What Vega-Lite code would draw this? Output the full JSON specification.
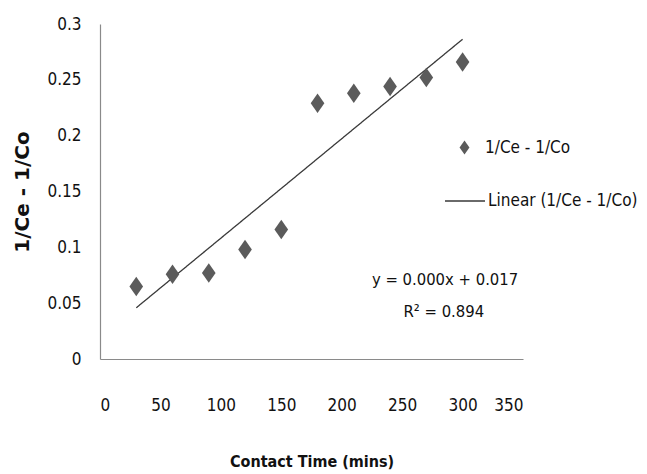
{
  "$schema": "https://vega.github.io/schema/vega-lite/v6.json",
  "autosize": "none",
  "padding": {"left": 100, "top": 24, "right": 124, "bottom": 115},
  "width": 423,
  "height": 335,
  "background": "white",
  "config": {
    "view": {"stroke": null},
    "font": "DejaVu Sans Condensed",
    "axis": {"grid": false, "ticks": false, "domainColor": "#8a8a8a", "domainWidth": 1.2,
      "labelFont": "DejaVu Sans Condensed", "labelFontSize": 17, "labelColor": "#111111",
      "titleFont": "DejaVu Sans Condensed", "titleColor": "#111111"}
  },
  "datasets": {
    "pts": [
      {"t": 30, "v": 0.065},
      {"t": 60, "v": 0.076},
      {"t": 90, "v": 0.077},
      {"t": 120, "v": 0.098},
      {"t": 150, "v": 0.116},
      {"t": 180, "v": 0.229},
      {"t": 210, "v": 0.238},
      {"t": 240, "v": 0.244},
      {"t": 270, "v": 0.252},
      {"t": 300, "v": 0.266}
    ],
    "notes": [
      {"t": 285.5, "v": 0.071, "label": "y = 0.000x + 0.017"},
      {"t": 284.5, "v": 0.042, "label": "R² = 0.894"}
    ]
  },
  "layer": [
    {
      "data": {"name": "pts"},
      "transform": [{"regression": "v", "on": "t"}],
      "mark": {"type": "line", "color": "#3a3a3a", "strokeWidth": 1.3},
      "encoding": {
        "x": {"field": "t", "type": "quantitative",
          "scale": {"domain": [0, 350], "nice": false},
          "axis": {"values": [0, 50, 100, 150, 200, 250, 300, 350], "labelPadding": 38,
            "title": "Contact Time (mins)", "titleFont": "DejaVu Sans Condensed", "titleFontSize": 16, "titleFontWeight": "bold", "titlePadding": 40}},
        "y": {"field": "v", "type": "quantitative",
          "scale": {"domain": [0, 0.3], "nice": false},
          "axis": {"values": [0, 0.05, 0.1, 0.15, 0.2, 0.25, 0.3], "format": "~g", "labelPadding": 19,
            "labelFlush": false, "title": "1/Ce - 1/Co", "titleFont": "DejaVu Sans", "titleFontSize": 20, "titleFontWeight": "bold", "titlePadding": 14}},
        "strokeDash": {"datum": "Linear (1/Ce - 1/Co)",
          "scale": {"range": [[1, 0]]},
          "legend": {"title": null, "orient": "none", "legendX": 344, "legendY": 156,
            "symbolType": "stroke", "symbolSize": 1600, "symbolStrokeColor": "#3a3a3a", "symbolStrokeWidth": 1.5,
            "labelFont": "DejaVu Sans Condensed", "labelFontSize": 17, "labelLimit": 300, "labelColor": "#111111", "labelOffset": 2}}
      }
    },
    {
      "data": {"name": "pts"},
      "mark": {"type": "point", "filled": true, "color": "#5b5b5b", "opacity": 1, "size": 380},
      "encoding": {
        "x": {"field": "t", "type": "quantitative"},
        "y": {"field": "v", "type": "quantitative"},
        "shape": {"datum": "1/Ce - 1/Co",
          "scale": {"range": ["M0,-1L0.7,0L0,1L-0.7,0Z"]},
          "legend": {"title": null, "orient": "none", "legendX": 356, "legendY": 115,
            "symbolSize": 200, "symbolFillColor": "#5b5b5b", "symbolStrokeColor": "#5b5b5b", "symbolStrokeWidth": 0,
            "labelFont": "DejaVu Sans Condensed", "labelFontSize": 17, "labelColor": "#111111", "labelOffset": 12}}
      }
    },
    {
      "data": {"name": "notes"},
      "mark": {"type": "text", "font": "DejaVu Sans Condensed", "fontSize": 16.5, "color": "#111111", "align": "center", "baseline": "middle"},
      "encoding": {
        "x": {"field": "t", "type": "quantitative"},
        "y": {"field": "v", "type": "quantitative"},
        "text": {"field": "label"}
      }
    }
  ]
}
